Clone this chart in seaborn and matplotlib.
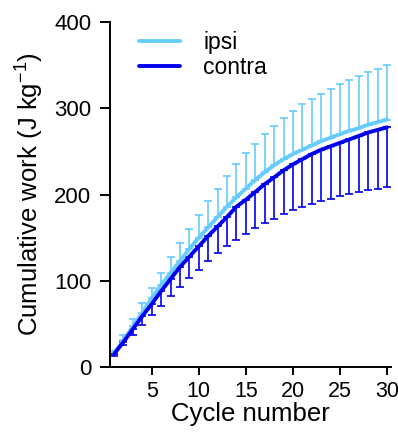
import numpy as np
import pandas as pd
import matplotlib
matplotlib.use("Agg")
import matplotlib.pyplot as plt
import seaborn as sns

# Mean cumulative work per cycle (J/kg) and the one-sided error for each limb
cycles = list(range(1, 31))
ipsi_mean = [16, 31, 47, 63, 80, 95, 109, 123, 137, 150, 162, 174, 186, 197, 207,
             217, 226, 234, 241, 247, 252, 257, 262, 266, 270, 274, 277, 281, 284, 287]
ipsi_upper = [19, 37, 56, 74, 92, 109, 127, 144, 160, 176, 192, 206, 221, 235, 248,
              259, 270, 280, 289, 297, 305, 311, 317, 323, 328, 333, 338, 342, 346, 350]
contra_mean = [15, 29, 44, 59, 73, 88, 102, 116, 128, 140, 152, 163, 174, 186, 194,
               203, 212, 220, 228, 235, 241, 247, 252, 256, 260, 264, 268, 272, 275, 278]
contra_lower = [13, 25, 37, 49, 60, 71, 82, 93, 103, 113, 123, 132, 140, 147, 154,
                161, 167, 172, 178, 182, 185, 189, 192, 195, 198, 201, 203, 205, 207, 209]

groups = ["ipsi", "contra"]
colors = {"ipsi": "#66CCFF", "contra": "#0000EE"}

sns.set_style("ticks")
plt.rcParams["font.family"] = ["Liberation Sans", "DejaVu Sans"]
plt.rcParams["mathtext.fontset"] = "custom"
plt.rcParams["mathtext.rm"] = "Liberation Sans"
plt.rcParams["mathtext.it"] = "Liberation Sans:italic"
for key in ["text.color", "axes.labelcolor", "xtick.color", "ytick.color",
            "axes.edgecolor"]:
    plt.rcParams[key] = "black"

df = pd.DataFrame({
    "Cycle": cycles * 2,
    "Work": ipsi_mean + contra_mean,
    "Side": ["ipsi"] * len(cycles) + ["contra"] * len(cycles),
})

fig = plt.figure(figsize=(3.98, 4.34), dpi=100)
ax = fig.add_axes([0.2764, 0.1544, 0.7056, 0.7946])

# one-sided error bars: ipsi upward, contra downward
ax.errorbar(cycles, ipsi_mean,
            yerr=[np.zeros(len(cycles)), np.array(ipsi_upper) - np.array(ipsi_mean)],
            fmt="none", ecolor=colors["ipsi"], elinewidth=1.2, capsize=2.6,
            capthick=1.2, zorder=2)
ax.errorbar(cycles, contra_mean,
            yerr=[np.array(contra_mean) - np.array(contra_lower), np.zeros(len(cycles))],
            fmt="none", ecolor=colors["contra"], elinewidth=1.2, capsize=2.6,
            capthick=1.2, zorder=2)

sns.lineplot(data=df, x="Cycle", y="Work", hue="Side", hue_order=groups,
             palette=colors, linewidth=2.8, ax=ax, zorder=3, legend=True)

ax.set_xlim(0.57, 30.4)
ax.set_ylim(0, 400)
ax.set_xticks([5, 10, 15, 20, 25, 30])
ax.set_yticks([0, 100, 200, 300, 400])
ax.tick_params(axis="both", width=1.4, color="black", labelcolor="black")
ax.tick_params(axis="x", labelsize=15.5, length=6, pad=4)
ax.tick_params(axis="y", labelsize=16, length=7.5, pad=6)
for s in ["left", "bottom"]:
    ax.spines[s].set_linewidth(1.4)
sns.despine(ax=ax)

ax.set_xlabel("Cycle number", fontsize=18.5, labelpad=0, color="black")
ax.set_ylabel("Cumulative work (J kg$^{-1}$)", fontsize=18.5, labelpad=6,
              color="black")

leg = ax.legend(loc="upper left", bbox_to_anchor=(0.03, 1.035), frameon=False,
                fontsize=16.5, handlelength=1.8, handletextpad=1.0,
                labelspacing=0.12, title=None)
for line in leg.get_lines():
    line.set_linewidth(2.8)
for t in leg.get_texts():
    t.set_color("black")

fig.savefig("out.png", dpi=100)
